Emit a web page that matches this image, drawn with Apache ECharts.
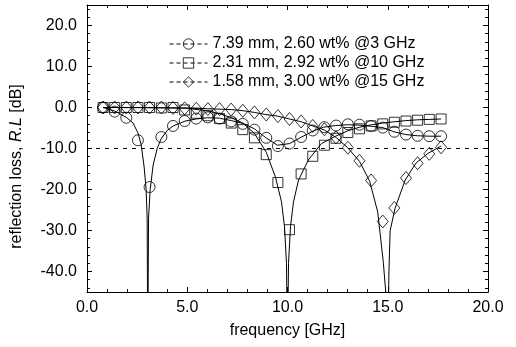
<!DOCTYPE html>
<html>
<head>
<meta charset="utf-8">
<script src="https://cdn.jsdelivr.net/npm/echarts@6/dist/echarts.min.js"></script>
<style>
  html, body { margin: 0; padding: 0; background: #fff; }
  #chart { width: 516px; height: 347px; }
</style>
</head>
<body>
<div id="chart"></div>
<script>
// measured points (markers)
const freqs = [0.80, 1.38, 1.96, 2.54, 3.12, 3.71, 4.29, 4.87, 5.45, 6.03, 6.61, 7.19, 7.77, 8.35, 8.94,
  9.52, 10.10, 10.68, 11.26, 11.84, 12.42, 13.01, 13.59, 14.17, 14.75, 15.33, 15.91, 16.49, 17.07, 17.66];
const rl739 = [0, -1.0, -2.5, -8.0, -19.4, -7.2, -4.5, -3.3, -2.7, -2.4, -2.7, -3.4, -4.0, -5.4, -7.4,
  -9.4, -8.8, -7.2, -5.6, -4.8, -4.4, -4.1, -4.2, -4.5, -4.9, -5.9, -6.6, -6.9, -7.0, -7.0];
const rl231 = [0, 0, 0, 0, 0, -0.1, 0, -0.6, -1.4, -2.0, -2.7, -3.8, -5.4, -7.4, -11.5,
  -18.3, -29.8, -16.2, -11.9, -9.2, -7.5, -6.1, -5.2, -4.5, -4.0, -3.6, -3.3, -3.1, -2.9, -2.8];
const rl158 = [0, 0, 0, 0, 0, 0, -0.1, -0.2, -0.3, -0.4, -0.4, -0.5, -0.8, -1.2, -1.7,
  -2.1, -2.8, -3.4, -4.5, -5.3, -7.3, -9.8, -13.0, -17.8, -27.8, -24.5, -17.2, -13.6, -11.3, -9.7];

// calculated curves (solid lines)
const fitFreq739 = [0.8, 1.4, 1.96, 2.3, 2.54, 2.7, 2.85, 2.95, 3.0, 3.03, 3.07, 3.15, 3.3, 3.5, 3.7, 4.0, 4.3,
  4.9, 5.45, 6.0, 6.6, 7.2, 7.8, 8.35, 8.9, 9.5, 10.1, 10.7, 11.3, 11.8, 12.4, 13.0, 13.6, 14.2, 14.75,
  15.3, 15.9, 16.5, 17.1, 17.66];
const fitRL739 = [0, -0.9, -2.4, -3.8, -6.2, -9, -14.5, -20, -27, -60, -27, -20, -14, -10, -7.6, -5.6, -4.5,
  -3.3, -2.8, -2.5, -2.6, -3.2, -3.9, -5.2, -7.3, -9.2, -8.8, -7.2, -5.7, -4.8, -4.4, -4.2, -4.3, -4.6, -4.9,
  -5.9, -6.6, -6.9, -7.0, -7.0];
const fitFreq231 = [0.8, 3.0, 5.0, 6.0, 6.6, 7.2, 7.77, 8.35, 8.94, 9.4, 9.7, 9.85, 9.95, 10.0, 10.05, 10.15,
  10.3, 10.55, 11.04, 11.69, 12.4, 13.0, 13.6, 14.2, 14.75, 15.3, 15.9, 16.5, 17.1, 17.66];
const fitRL231 = [0, 0, -0.2, -0.8, -1.5, -2.5, -3.8, -6.3, -10.9, -17, -23, -29, -38, -60, -38, -29,
  -23, -17.7, -12.8, -8.8, -7.0, -5.7, -4.8, -4.2, -3.8, -3.5, -3.2, -3.0, -2.9, -2.8];
const fitFreq158 = [0.8, 5.0, 6.0, 7.2, 7.8, 8.35, 8.9, 9.5, 10.1, 10.7, 11.26, 11.84, 12.42, 13.0, 13.6, 14.1,
  14.5, 14.78, 14.95, 15.0, 15.06, 15.12, 15.37, 15.87, 16.4, 17.0, 17.66];
const fitRL158 = [0, -0.1, -0.3, -0.5, -0.8, -1.2, -1.7, -2.1, -2.8, -3.5, -4.5, -5.5, -7.3, -9.8, -13.2, -18,
  -25.5, -37.8, -48, -60, -40, -30, -24.5, -17.7, -13.6, -11.2, -9.4];

const seriesNames = ['7.39 mm, 2.60 wt% @3 GHz', '2.31 mm, 2.92 wt% @10 GHz', '1.58 mm, 3.00 wt% @15 GHz'];
const yMajor = [-40, -30, -20, -10, 0, 10, 20];
const yMinor = [-44, -42, -38, -36, -34, -32, -28, -26, -24, -22, -18, -16, -14, -12, -8, -6, -4, -2,
  2, 4, 6, 8, 12, 14, 16, 18, 22, 24];

const pairs = (xs, ys) => xs.map((x, i) => [x, ys[i]]);
const font = 'Liberation Sans, Arial, sans-serif';
const black = '#000';

const chart = echarts.init(document.getElementById('chart'), null, { renderer: 'canvas' });

function fitSeries(xs, ys, extra) {
  return Object.assign({
    type: 'line',
    data: pairs(xs, ys),
    symbol: 'none',
    silent: true,
    lineStyle: { color: black, width: 1 },
    z: 3,
  }, extra || {});
}

function markerSeries(name, ys, symbol, size) {
  return {
    name: name,
    type: 'line',
    data: pairs(freqs, ys),
    symbol: symbol,
    symbolSize: size,
    showAllSymbol: true,
    lineStyle: { width: 0, opacity: 0 },
    itemStyle: { color: 'transparent', borderColor: black, borderWidth: 0.8 },
    emphasis: { disabled: true },
    z: 4,
  };
}

function ySide(position, values, len, withLine) {
  return {
    type: 'value',
    min: -45,
    max: 25,
    position: position,
    axisLine: { show: withLine, onZero: false, lineStyle: { color: black, width: 1 } },
    axisTick: { show: true, inside: true, length: len, customValues: values, lineStyle: { color: black } },
    axisLabel: { show: false },
    splitLine: { show: false },
  };
}

function xSide(position, showLabels) {
  const axis = {
    type: 'value',
    min: 0,
    max: 20,
    interval: 5,
    position: position,
    axisLine: { onZero: false, lineStyle: { color: black, width: 1 } },
    axisTick: { inside: true, length: 5, lineStyle: { color: black } },
    minorTick: { show: true, splitNumber: 5, length: 3, lineStyle: { color: black } },
    axisLabel: { show: showLabels, color: black, fontSize: 16, fontFamily: font, margin: 8, formatter: v => v.toFixed(1) },
    splitLine: { show: false },
  };
  if (showLabels) {
    axis.name = 'frequency [GHz]';
    axis.nameLocation = 'middle';
    axis.nameGap = 31;
    axis.nameTextStyle = { color: black, fontSize: 16, fontFamily: font };
  }
  return axis;
}

const option = {
  animation: false,
  backgroundColor: '#fff',
  grid: { left: 87, right: 28, top: 5, bottom: 55 },
  legend: {
    orient: 'vertical',
    left: 164,
    top: 31,
    itemWidth: 38,
    itemHeight: 13,
    itemGap: 3,
    selectedMode: false,
    data: seriesNames,
    itemStyle: { color: 'transparent', borderColor: black, borderWidth: 0.8 },
    lineStyle: { color: black, width: 1, type: [4, 3], opacity: 1 },
    textStyle: { color: black, fontSize: 16, fontFamily: font },
  },
  xAxis: [xSide('bottom', true), xSide('top', false)],
  yAxis: [
    {
      type: 'value',
      min: -45,
      max: 25,
      position: 'left',
      axisLine: { show: true, onZero: false, lineStyle: { color: black, width: 1 } },
      axisTick: { show: true, inside: true, length: 5, customValues: yMajor, lineStyle: { color: black } },
      axisLabel: {
        color: black, fontSize: 16, fontFamily: font, margin: 10,
        customValues: yMajor, formatter: v => v.toFixed(1),
      },
      splitLine: { show: false },
      name: '{n|reflection loss, }{i|R.L}{n| [dB]}',
      nameLocation: 'middle',
      nameGap: 62,
      nameRotate: 90,
      nameTextStyle: {
        padding: [0, 36, 0, 0],
        rich: {
          n: { color: black, fontSize: 16, fontFamily: font },
          i: { color: black, fontSize: 16, fontFamily: font, fontStyle: 'italic' },
        },
      },
    },
    ySide('left', yMinor, 3, false),
    ySide('right', yMajor, 5, true),
    ySide('right', yMinor, 3, false),
  ],
  series: [
    fitSeries(fitFreq739, fitRL739, {
      markLine: {
        silent: true,
        symbol: 'none',
        label: { show: false },
        lineStyle: { color: black, width: 1, type: [4, 5] },
        data: [{ yAxis: -10 }],
      },
    }),
    fitSeries(fitFreq231, fitRL231),
    fitSeries(fitFreq158, fitRL158),
    markerSeries(seriesNames[0], rl739, 'circle', 11),
    markerSeries(seriesNames[1], rl231, 'rect', 10),
    markerSeries(seriesNames[2], rl158, 'diamond', [11, 13]),
  ],
};

chart.setOption(option);
</script>
</body>
</html>
